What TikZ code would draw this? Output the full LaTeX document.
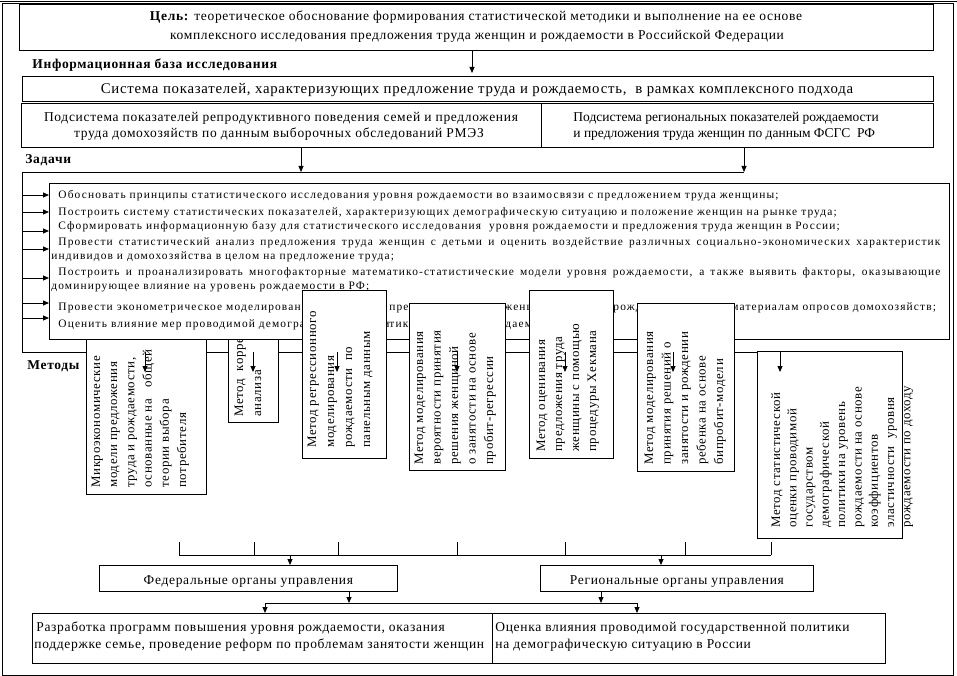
\documentclass[tikz,border=0pt]{standalone}
\usepackage{fontspec}
\setmainfont{Liberation Serif}
\usetikzlibrary{arrows.meta}
\newfontfamily\lsf[LetterSpace=5]{Liberation Serif}
\newfontfamily\lsm[LetterSpace=10]{Liberation Serif}
\newcommand\fGoal{\lsf\fontsize{13.5}{19}\selectfont}
\newcommand\fPlain{\rmfamily\fontsize{13.5}{19}\selectfont}
\newcommand\fSys{\lsf\fontsize{14.8}{18}\selectfont}
\newcommand\fTask{\lsm\fontsize{11.4}{15}\selectfont}
\newcommand\fMeth{\lsf\fontsize{12.9}{17}\selectfont}
\newcommand\fHead{\lsf\bfseries\fontsize{13.5}{16}\selectfont}
\newcommand\mlines[5]{%
  \foreach \mtxt [count=\mi from 0] in {#5}{\node[ml] (#1-\mi) at ({#2+\mi*#4},#3) {\mtxt};}}
\begin{document}
\begin{tikzpicture}[x=1pt,y=-1pt,line width=0.8pt,
  box/.style={draw,fill=white,inner sep=0pt,anchor=north west},
  tl/.style={anchor=base west,inner sep=0pt,font=\fTask},
  gl/.style={anchor=base,inner sep=0pt,font=\fGoal},
  gw/.style={anchor=base west,inner sep=0pt,font=\fGoal},
  hd/.style={anchor=base west,inner sep=0pt,font=\fHead},
  ml/.style={rotate=90,anchor=base west,inner sep=0pt,font=\fMeth},
  arr/.style={-{Triangle[length=6pt,width=5pt]}}]
\useasboundingbox (0,0) rectangle (957,676);
% outer frame
\draw (0,1) -- (957,1);
\node[box,fill=none,minimum width=951pt,minimum height=671pt] (frame) at (2,3.5) {};
% goal
\node[box,minimum width=914pt,minimum height=46pt] (goal) at (19,4) {};
\node[gl] (goal1) at (476,21) {\textbf{Цель:} теоретическое обоснование формирования статистической методики и выполнение на ее основе};
\node[gl] (goal2) at (477,40) {комплексного исследования предложения труда женщин и рождаемости в Российской Федерации};
\node[hd] (infob) at (32,69) {Информационная база исследования};
% system
\node[box,minimum width=911pt,minimum height=25pt] (sys) at (22,76) {};
\node[anchor=base,inner sep=0pt,font=\fSys] (syst) at (477,94) {Система показателей, характеризующих предложение труда и рождаемость,\ \ в рамках комплексного подхода};
\coordinate (ga) at (472,0);
\draw[arr,shorten >=3pt] (goal.south -| ga) -- (sys.north -| ga);
% subsystems
\node[box,minimum width=520pt,minimum height=44pt] (subL) at (21,103) {};
\node[box,minimum width=392pt,minimum height=44pt] (subR) at (541,103) {};
\node[gl] (subL1) at (281,122) {Подсистема показателей репродуктивного поведения семей и предложения};
\node[gl] (subL2) at (279,138) {труда домохозяйств по данным выборочных обследований РМЭЗ};
\node[anchor=base west,inner sep=0pt,font=\fPlain] (subR1) at (573,122) {Подсистема региональных показателей рождаемости};
\node[anchor=base west,inner sep=0pt,font=\fPlain] (subR2) at (573,138) {и предложения труда женщин по данным ФСГС\ \ РФ};
% tasks outer frame
\node[hd] (zad) at (25,164) {Задачи};
\coordinate (oTL) at (22,172);
\coordinate (oTR) at (744,172);
\coordinate (oBL) at (22,352);
\coordinate (oBR) at (757,352);
\draw (oTR) -- (oTL) -- (oBL) -- (oBR);
\coordinate (sa) at (301,0);
\draw[arr] (subL.south -| sa) -- (oTL -| sa);
\draw[arr] (subR.south -| oTR) -- (oTR);
% methods under the tasks box
\node[hd] (met) at (27,369) {Методы};
\node[box,minimum width=120pt,minimum height=155pt] (m1) at (86,339) {};
\mlines{m1t}{100}{488}{17.2}{{Микроэкономические},{модели предложения},{труда и рождаемости,},{основанные на \ \ общей},{теории выбора},{потребителя}}
\node[box,minimum width=50pt,minimum height=83pt] (m2) at (228,339) {};
\mlines{m2t}{243}{417}{18}{{Метод\ \ корреляционного},{анализа}}
% tasks inner box
\node[box,minimum width=900pt,minimum height=156pt] (tasks) at (49,183) {};
\node[tl] (t1) at (58,198.5) {Обосновать принципы статистического исследования уровня рождаемости во взаимосвязи с предложением труда женщины;};
\node[tl] (t2) at (58,215.5) {Построить систему статистических показателей, характеризующих демографическую ситуацию и положение женщин на рынке труда;};
\node[tl] (t3) at (58,229.5) {Сформировать информационную базу для статистического исследования\ \ уровня рождаемости и предложения труда женщин в России;};
\node[tl] (t4a) at (58,245.5) {\makebox[882pt][s]{Провести статистический анализ предложения труда женщин с детьми и оценить воздействие различных социально-экономических характеристик}};
\node[tl] (t4b) at (51,259.5) {индивидов и домохозяйства в целом на предложение труда;};
\node[tl] (t5a) at (58,275.5) {\makebox[882pt][s]{Построить и проанализировать многофакторные математико-статистические модели уровня рождаемости, а также выявить факторы, оказывающие}};
\node[tl] (t5b) at (51,289.5) {доминирующее влияние на уровень рождаемости в РФ;};
\node[tl] (t6a) at (58,310.5) {Провести эконометрическое моделирование};
\node[tl] (t6b) at (389,310.5) {\llap{взаимосвязи }предложения труда};
\node[tl] (t6c) at (504,310.5) {женщин и уровня};
\node[tl] (t6d) at (613,310.5) {рождаемости по};
\node[tl] (t6e) at (731,310.5) {материалам опросов домохозяйств;};
\node[tl] (t7a) at (58,327.5) {Оценить влияние мер проводимой демографической};
\node[tl] (t7b) at (389,327.5) {\llap{поли}тики на уровень};
\node[tl] (t7c) at (505,327.5) {\llap{рож}даемости.};
\foreach \yy in {195,212,231,249,278,303,318}
  \draw[arr] (oTL |- 0,\yy) -- (tasks.west |- 0,\yy);
% methods over the tasks box
\node[box,minimum width=84pt,minimum height=168pt] (m3) at (302,290) {};
\mlines{m3t}{316}{448}{18}{{Метод регрессионного},{моделирования},{рождаемости\ \ по},{панельным данным}}
\node[box,minimum width=96pt,minimum height=167pt] (m4) at (409,303) {};
\mlines{m4t}{423}{465}{17.5}{{Метод моделирования},{вероятности принятия},{решения женщиной},{о занятости на основе},{пробит-регрессии}}
\node[box,minimum width=84pt,minimum height=168pt] (m5) at (529,290) {};
\mlines{m5t}{545}{452}{17}{{Метод оценивания},{предложения труда},{женщины с помощью},{процедуры Хекмана}}
\node[box,minimum width=97pt,minimum height=168pt] (m6) at (637,303) {};
\mlines{m6t}{653}{465}{17.5}{{Метод моделирования},{принятия решений о},{занятости и рождении},{ребенка на основе},{бипробит-модели}}
\node[box,minimum width=145pt,minimum height=187pt] (m7) at (757,351) {};
\mlines{m7t}{780}{528}{16.3}{{Метод статистической},{оценки проводимой},{государством},{демографической},{политики на уровень},{рождаемости на основе},{коэффициентов},{эластичности\ \ уровня},{рождаемости по доходу}}
\foreach \xx in {145,253,337,457,565,673,780}
  \draw[arr] (oBL -| \xx,0) -- ++(0,20);
% collecting lines
\coordinate (bl) at (179,555);
\coordinate (br) at (771,555);
\draw (bl) -- (br);
\foreach \xx in {179,254,338,457,565,685,771}
  \draw (bl -| \xx,0) -- ++(0,-13);
\node[box,minimum width=298pt,minimum height=26pt] (fed) at (99,565) {};
\node[gl] (fedt) at (fed.center |- 0,584) {Федеральные органы управления};
\node[box,minimum width=273pt,minimum height=26pt] (reg) at (540,565) {};
\node[gl] (regt) at (reg.center |- 0,584) {Региональные органы управления};
\coordinate (fa) at (290,0);
\coordinate (ra) at (661,0);
\draw[arr] (bl -| fa) -- (fed.north -| fa);
\draw[arr] (bl -| ra) -- (reg.north -| ra);
% results
\node[box,minimum width=460pt,minimum height=50pt] (outL) at (32,613) {};
\node[box,minimum width=393pt,minimum height=50pt] (outR) at (492,613) {};
\node[gw] (outL1) at (36,631) {Разработка программ повышения уровня рождаемости, оказания};
\node[gw] (outL2) at (34,648) {поддержке семье, проведение реформ по проблемам занятости женщин};
\node[gw] (outR1) at (495,631) {Оценка влияния проводимой государственной политики};
\node[gw] (outR2) at (495,648) {на демографическую ситуацию в России};
\coordinate (hl) at (265,603);
\coordinate (hr) at (637,603);
\coordinate (fb) at (349,0);
\coordinate (rb) at (601,0);
\draw (hl) -- (hr);
\draw[arr] (fed.south -| fb) -- (hl -| fb);
\draw[arr] (reg.south -| rb) -- (hl -| rb);
\draw[arr] (hl) -- (outL.north -| hl);
\draw[arr] (hr) -- (outR.north -| hr);
\end{tikzpicture}
\end{document}
